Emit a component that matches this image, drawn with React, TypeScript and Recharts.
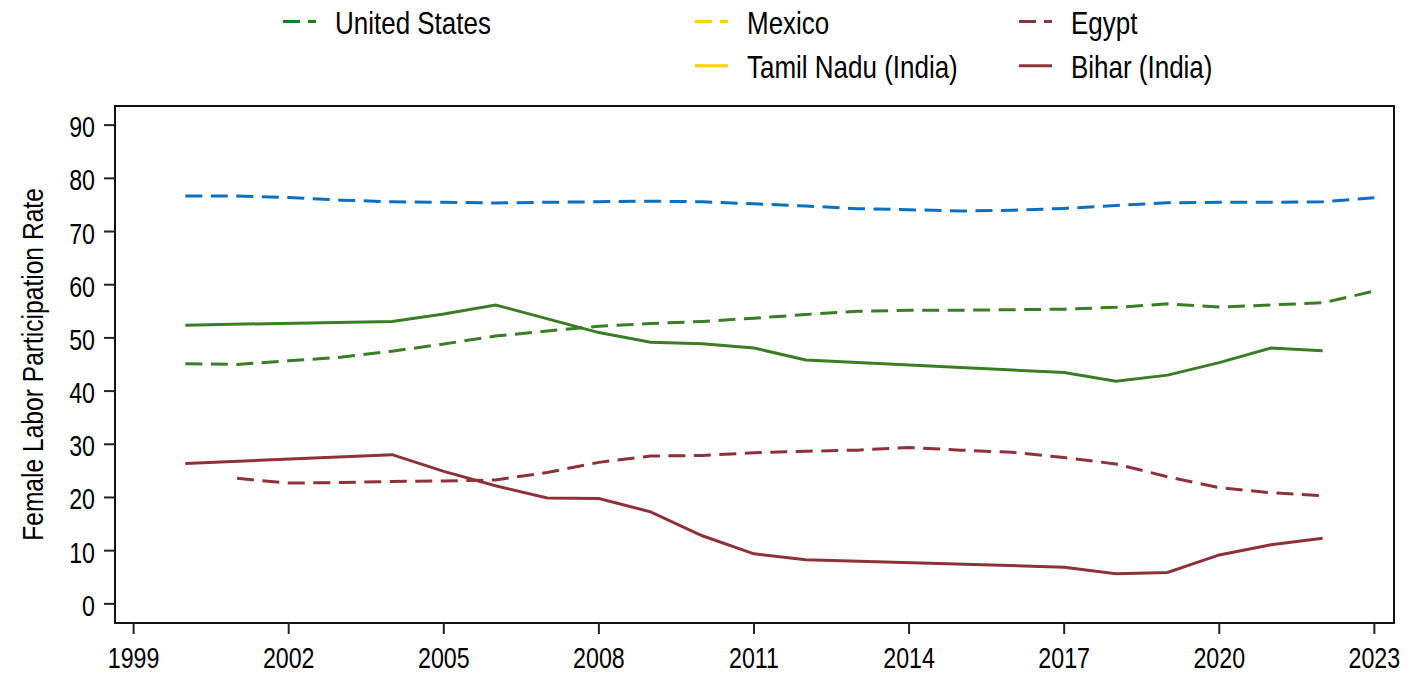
import React from "react";
import { LineChart, Line, XAxis, YAxis, ReferenceArea } from "recharts";

// Female labor participation rate by year
const years = [
  2000, 2001, 2002, 2003, 2004, 2005, 2006, 2007, 2008, 2009, 2010, 2011,
  2012, 2013, 2014, 2015, 2016, 2017, 2018, 2019, 2020, 2021, 2022, 2023,
];
const unitedStates = [
  76.7, 76.7, 76.4, 75.9, 75.6, 75.5, 75.35, 75.5, 75.6, 75.7, 75.6, 75.2,
  74.8, 74.3, 74.1, 73.85, 74.0, 74.35, 74.9, 75.4, 75.5, 75.5, 75.6, 76.35,
];
const mexico = [
  45.15, 45.0, 45.7, 46.35, 47.5, 48.85, 50.35, 51.3, 52.2, 52.7, 53.1, 53.7,
  54.4, 55.0, 55.2, 55.2, 55.3, 55.4, 55.75, 56.4, 55.8, 56.2, 56.6, 58.8,
];
const tamilNadu = [
  52.4, null, null, null, 53.1, 54.5, 56.2, null, 51.0, 49.2, 48.9, 48.1,
  45.85, null, null, null, null, 43.5, 41.85, 43.0, 45.35, 48.1, 47.6, null,
];
const egypt = [
  null, 23.6, 22.7, 22.8, 23.0, 23.1, 23.3, 24.7, 26.6, 27.8, 27.9, 28.4,
  28.7, 28.9, 29.4, 28.9, 28.5, 27.5, 26.3, 23.9, 21.85, 20.9, 20.35, null,
];
const bihar = [
  26.4, null, null, null, 28.05, 24.9, 22.2, 19.9, 19.8, 17.3, 12.8, 9.4,
  8.3, null, null, null, null, 6.9, 5.64, 5.9, 9.2, 11.1, 12.35, null,
];

const xTicks = [1999, 2002, 2005, 2008, 2011, 2014, 2017, 2020, 2023];
const yTicks = [0, 10, 20, 30, 40, 50, 60, 70, 80, 90];

const legendNames = ["United States", "Mexico", "Egypt", "Tamil Nadu (India)", "Bihar (India)"];
const legendColors = ["#12801a", "#ffd000", "#8c343b", "#ffd000", "#8c343b"];
const legendDashed = [true, true, true, false, false];

const rows = years.map((year, i) => ({
  year,
  unitedStates: unitedStates[i],
  mexico: mexico[i],
  tamilNadu: tamilNadu[i],
  egypt: egypt[i],
  bihar: bihar[i],
}));

const FONT = "'Liberation Sans', Arial, Helvetica, sans-serif";
// condensed look for all lettering
const SQUEEZE = 0.8;
const LEGEND_SQUEEZE = 0.825;
const BLUE = "#0a70c2";
const GREEN = "#3a7d24";
const MAROON = "#8e3139";
const DASH = "17 8.5";

const X_MIN = 1998.64;
const X_MAX = 2023.38;
const Y_MIN = -3.6;
const Y_MAX = 93.6;

const XTick = (props: any) => {
  const { x, y, payload } = props;
  return (
    <text
      transform={`translate(${x},${y + 32}) scale(${SQUEEZE},1)`}
      textAnchor="middle"
      fontFamily={FONT}
      fontSize={29}
      fill="#000"
    >
      {payload.value}
    </text>
  );
};

const YTick = (props: any) => {
  const { x, y, payload } = props;
  return (
    <text
      transform={`translate(${x},${y + 12}) scale(${SQUEEZE},1)`}
      textAnchor="end"
      fontFamily={FONT}
      fontSize={29}
      fill="#000"
    >
      {payload.value}
    </text>
  );
};

// legend grid: three columns, two rows
const legendSlots = [
  { col: 283, row: 0 },
  { col: 695, row: 0 },
  { col: 1019, row: 0 },
  { col: 695, row: 1 },
  { col: 1019, row: 1 },
];

const KeyLegend = () => (
  <svg width={1419} height={95} style={{ position: "absolute", left: 0, top: 0 }}>
    {legendNames.map((name, i) => {
      const slot = legendSlots[i];
      const cy = slot.row === 0 ? 21.5 : 65.7;
      return (
        <g key={name}>
          <line
            x1={slot.col}
            x2={slot.col + 33}
            y1={cy}
            y2={cy}
            stroke={legendColors[i]}
            strokeWidth={3}
            strokeDasharray={legendDashed[i] ? "17 8" : undefined}
          />
          <text
            transform={`translate(${slot.col + 52},${cy + 12.5}) scale(${LEGEND_SQUEEZE},1)`}
            fontFamily={FONT}
            fontSize={31.5}
            fill="#000"
          >
            {name}
          </text>
        </g>
      );
    })}
  </svg>
);

export default function App() {
  return (
    <div style={{ position: "absolute", left: 0, top: 0, width: 1419, height: 674, background: "#fff" }}>
      <LineChart
        width={1419}
        height={674}
        data={rows}
        margin={{ top: 106, right: 25, bottom: 21, left: 55 }}
      >
        <XAxis
          dataKey="year"
          type="number"
          domain={[X_MIN, X_MAX]}
          ticks={xTicks}
          allowDataOverflow
          axisLine={false}
          tickLine={{ stroke: "#222", strokeWidth: 2 }}
          tickSize={11}
          tickMargin={2}
          height={30}
          tick={<XTick />}
          interval={0}
        />
        <YAxis
          type="number"
          domain={[Y_MIN, Y_MAX]}
          ticks={yTicks}
          allowDataOverflow
          axisLine={false}
          tickLine={{ stroke: "#222", strokeWidth: 2 }}
          tickSize={11}
          tickMargin={9}
          width={60}
          tick={<YTick />}
          interval={0}
        />
        <ReferenceArea
          x1={X_MIN}
          x2={X_MAX}
          y1={Y_MIN}
          y2={Y_MAX}
          fill="none"
          fillOpacity={0}
          stroke="#111"
          strokeWidth={2}
          ifOverflow="visible"
        />
        <Line dataKey="unitedStates" stroke={BLUE} strokeWidth={3} strokeDasharray={DASH} dot={false} connectNulls isAnimationActive={false} />
        <Line dataKey="tamilNadu" stroke={GREEN} strokeWidth={3} dot={false} connectNulls isAnimationActive={false} />
        <Line dataKey="mexico" stroke={GREEN} strokeWidth={3} strokeDasharray={DASH} dot={false} connectNulls isAnimationActive={false} />
        <Line dataKey="egypt" stroke={MAROON} strokeWidth={3} strokeDasharray={DASH} dot={false} connectNulls isAnimationActive={false} />
        <Line dataKey="bihar" stroke={MAROON} strokeWidth={3} dot={false} connectNulls isAnimationActive={false} />
      </LineChart>
      <svg width={90} height={674} style={{ position: "absolute", left: 0, top: 0 }}>
        <text
          transform={`translate(43.3,364.5) rotate(-90) scale(0.82,1)`}
          textAnchor="middle"
          fontFamily={FONT}
          fontSize={30}
          fill="#000"
        >
          Female Labor Participation Rate
        </text>
      </svg>
      <KeyLegend />
    </div>
  );
}
